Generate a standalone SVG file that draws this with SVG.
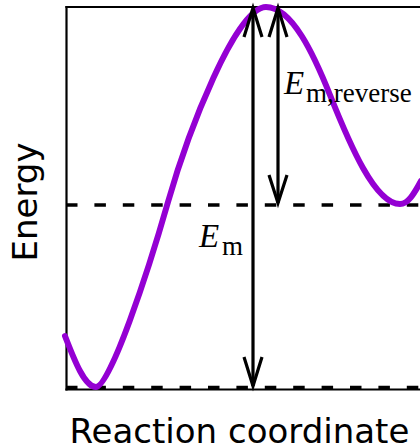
<svg xmlns="http://www.w3.org/2000/svg" width="420" height="448" viewBox="0 0 420 448">
  <style>
    .axis { stroke: #000; stroke-width: 2.2; fill: none; }
    .dash { stroke: #000; stroke-width: 3.6; stroke-dasharray: 11.5 16.9; fill: none; }
    .curve { stroke: #9400D3; stroke-width: 6; fill: none; stroke-linecap: round; }
    .arrow { stroke: #000; stroke-width: 3.2; fill: none; }
    .head { stroke: #000; stroke-width: 3.2; fill: none; stroke-linejoin: miter; }
    .label { font-family: "DejaVu Sans", sans-serif; font-size: 34px; fill: #000; }
    .math { font-family: "Liberation Serif", "Times New Roman", serif; font-size: 33px; fill: #000; }
    .sub { font-size: 27px; font-style: normal; }
  </style>
  <rect width="420" height="448" fill="#fff"/>
  <g id="axes">
    <line class="axis" x1="66.5" y1="6" x2="66.5" y2="390.5"/>
    <line class="axis" x1="65.4" y1="7" x2="420" y2="7"/>
    <line class="axis" x1="65.4" y1="389.5" x2="420" y2="389.5"/>
  </g>
  <g id="levels">
    <line class="dash" x1="66" y1="205" x2="420" y2="205"/>
    <line class="dash" x1="66" y1="387.5" x2="420" y2="387.5"/>
  </g>
  <g id="curve">
    <path class="curve" d="M65,336 C75,362 85,387 96,387 C110,387 148,272 168,202 C188,132 236,7 266,7 C292,7 314,55 330,95 C350,145 375,204 400,204 C408,204 414,194 421,181"/>
  </g>
  <g id="connectors">
    <g id="arrow-em">
      <line class="arrow" x1="253" y1="9" x2="253" y2="386"/>
      <polyline class="head" points="244,37 253,8 262,37"/>
      <polyline class="head" points="244,357 253,386 262,357"/>
    </g>
    <g id="arrow-emrev">
      <line class="arrow" x1="278" y1="9" x2="278" y2="203"/>
      <polyline class="head" points="269,37 278,8 287,37"/>
      <polyline class="head" points="269,175 278,203 287,175"/>
    </g>
  </g>
  <g id="label-emrev">
    <text class="math" x="284" y="93.5"><tspan font-style="italic">E</tspan></text>
    <text class="math sub" x="306" y="101.5">m,reverse</text>
  </g>
  <g id="label-em">
    <text class="math" x="199" y="247"><tspan font-style="italic">E</tspan></text>
    <text class="math sub" x="222" y="255">m</text>
  </g>
  <g id="axis-labels">
    <text class="label" x="69.5" y="443">Reaction coordinate</text>
    <text class="label" text-anchor="middle" transform="translate(37,202) rotate(-90)">Energy</text>
  </g>
</svg>
